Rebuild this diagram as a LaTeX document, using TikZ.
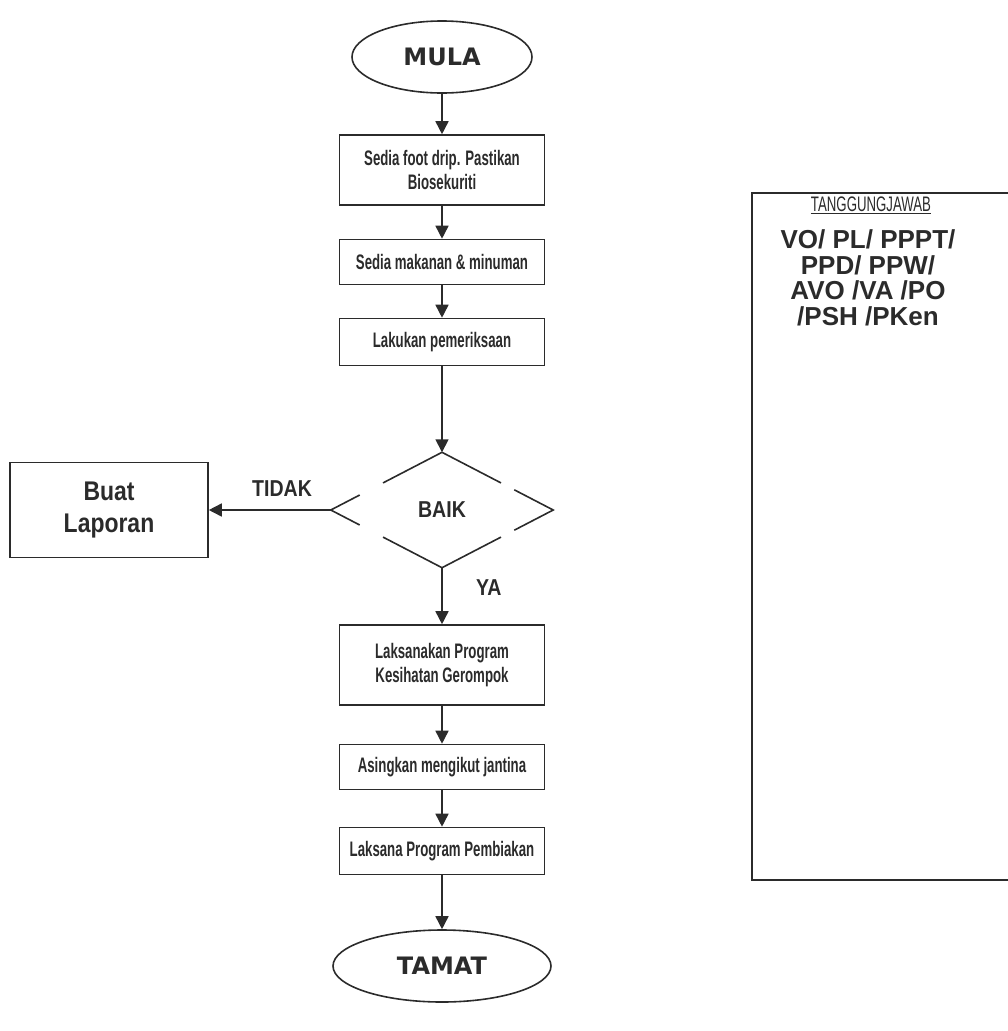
\documentclass[tikz,border=0pt]{standalone}
\usepackage{fontspec}
\setmainfont{Liberation Sans}
\newfontfamily\narrowfont[FakeStretch=0.63]{Liberation Sans}
\newfontfamily\tagfont[FakeStretch=0.85]{Liberation Sans}
\newfontfamily\heavyfont{DejaVu Sans}
\usetikzlibrary{shapes,arrows.meta,calc,positioning}
\definecolor{ink}{HTML}{2B2B2B}
\tikzset{
    terminal/.style={ellipse,draw=ink,line width=1.6pt,inner sep=0pt,text=ink,
        font=\heavyfont\bfseries\fontsize{24}{28}\selectfont},
    process/.style={rectangle,draw=ink,line width=1.6pt,inner sep=0pt,minimum width=205pt,
        align=center,text=ink,font=\narrowfont\bfseries\fontsize{21}{24.5}\selectfont},
    tag/.style={text=ink,font=\tagfont\bfseries\fontsize{23}{26}\selectfont}
}
\begin{document}
\begin{tikzpicture}[x=1pt,y=-1pt,
flow/.style={-{Triangle[width=13pt,length=13pt]},draw=ink,line width=1.6pt},
edge/.style={draw=ink,line width=1.6pt}]
\useasboundingbox (0,0) rectangle (1008,1031);
\node [terminal,minimum width=180pt,minimum height=72pt] (mula) at (442,57) {MULA};
\node [process,minimum height=70pt] (s1) at (442,170) {Sedia foot drip. Pastikan\\Biosekuriti};
\node [process,minimum height=45pt] (s2) at (442,262) {Sedia makanan \& minuman};
\node [process,minimum height=47pt] (s3) at (442,342) {Lakukan pemeriksaan};
\node [rectangle,minimum width=222pt,minimum height=115pt,inner sep=0pt,tag] (baik) at (442,510) {BAIK};
\node [process,minimum width=198pt,minimum height=95pt,
  font=\tagfont\bfseries\fontsize{27}{32}\selectfont] (lapor) at (109,510) {Buat\\Laporan};
\node [process,minimum height=80pt] (s4) at (442,665) {Laksanakan Program\\Kesihatan Gerompok};
\node [process,minimum height=45pt] (s5) at (442,767) {Asingkan mengikut jantina};
\node [process,minimum height=47pt] (s6) at (442,851) {Laksana Program Pembiakan};
\node [terminal,minimum width=218pt,minimum height=72pt] (tamat) at (442,966) {TAMAT};
\node [rectangle,draw=ink,line width=1.6pt,minimum width=268pt,minimum height=687pt] (resp) at (886,536.5) {};
\node [text=ink,font=\narrowfont\fontsize{21}{24}\selectfont] (head) at (871,205) {\underline{TANGGUNGJAWAB}};
\node [text=ink,align=center,font=\bfseries\fontsize{26}{25.5}\selectfont] (roles) at (868,278)
{VO/ PL/ PPPT/\\PPD/ PPW/\\AVO /VA /PO\\/PSH /PKen};
\draw [edge] (baik.north) -- ($(baik.north)!0.53!(baik.west)$);
\draw [edge] ($(baik.north)!0.74!(baik.west)$) -- (baik.west) -- ($(baik.west)!0.26!(baik.south)$);
\draw [edge] ($(baik.west)!0.47!(baik.south)$) -- (baik.south) -- ($(baik.south)!0.53!(baik.east)$);
\draw [edge] ($(baik.south)!0.65!(baik.east)$) -- (baik.east) -- ($(baik.east)!0.35!(baik.north)$);
\draw [edge] ($(baik.east)!0.47!(baik.north)$) -- (baik.north);
\foreach \a/\b in {mula/s1, s1/s2, s2/s3, s4/s5, s5/s6, s6/tamat}
\draw [flow] (\a) -- (\b);
\draw [flow] (s3.south) -- (baik.north);
\draw [flow] (baik.west) -- node [pos=0.4,above=9pt,tag] {TIDAK} (lapor.east);
\draw [flow] (baik.south) -- node [pos=0.35,right=30pt,tag] {YA} (s4.north);
\end{tikzpicture}
\end{document}
